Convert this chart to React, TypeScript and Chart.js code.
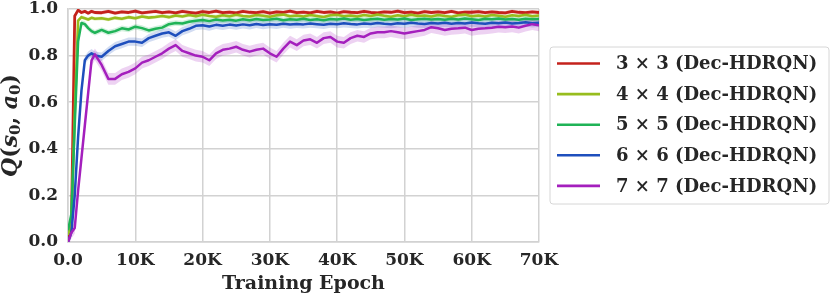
import React, { useEffect, useRef } from "react";
import { Chart, registerables } from "chart.js";

Chart.register(...registerables);

// Training epochs at which values were sampled
const epochs = [
  0, 500, 1000, 1500, 2000, 2500, 3000, 3500, 4000,
  5000, 6000, 7000, 8000, 9000, 10000, 11000, 12000, 13000, 14000,
  15000, 16000, 17000, 18000, 19000, 20000, 21000, 22000, 23000, 24000,
  25000, 26000, 27000, 28000, 29000, 30000, 31000, 32000, 33000, 34000,
  35000, 36000, 37000, 38000, 39000, 40000, 41000, 42000, 43000, 44000,
  45000, 46000, 47000, 48000, 49000, 50000, 51000, 52000, 53000, 54000,
  55000, 56000, 57000, 58000, 59000, 60000, 61000, 62000, 63000, 64000,
  65000, 66000, 67000, 68000, 69000, 70000,
];

const q3x3 = [
  0.02, 0.06, 0.97, 0.995, 0.985, 0.99, 0.982, 0.99, 0.985,
  0.984, 0.99, 0.982, 0.988, 0.985, 0.991, 0.983, 0.987, 0.99, 0.984,
  0.988, 0.983, 0.99, 0.986, 0.982, 0.989, 0.985, 0.991, 0.984, 0.987,
  0.983, 0.99, 0.986, 0.984, 0.989, 0.982, 0.988, 0.985, 0.991, 0.984,
  0.987, 0.983, 0.99, 0.985, 0.988, 0.982, 0.989, 0.986, 0.984, 0.99,
  0.985, 0.983, 0.988, 0.986, 0.991, 0.984, 0.987, 0.982, 0.989, 0.985,
  0.988, 0.984, 0.99, 0.983, 0.987, 0.986, 0.989, 0.984, 0.988, 0.985,
  0.983, 0.99, 0.986, 0.984, 0.988, 0.985,
];

const q4x4 = [
  0.03, 0.08, 0.55, 0.95, 0.965, 0.96, 0.955, 0.962, 0.958,
  0.96, 0.955, 0.962, 0.958, 0.965, 0.96, 0.968, 0.963, 0.966, 0.97,
  0.965, 0.972, 0.968, 0.974, 0.969, 0.975, 0.97, 0.967, 0.973, 0.969,
  0.975, 0.97, 0.968, 0.974, 0.971, 0.967, 0.973, 0.976, 0.969, 0.972,
  0.968, 0.974, 0.97, 0.966, 0.973, 0.975, 0.969, 0.972, 0.968, 0.974,
  0.97, 0.976, 0.971, 0.967, 0.973, 0.969, 0.975, 0.97, 0.972, 0.968,
  0.974, 0.97, 0.967, 0.973, 0.976, 0.969, 0.972, 0.968, 0.974, 0.971,
  0.967, 0.973, 0.97, 0.975, 0.969, 0.972,
];

const q5x5 = [
  0.05, 0.12, 0.5, 0.86, 0.94, 0.935, 0.918, 0.905, 0.898,
  0.91, 0.898, 0.905, 0.917, 0.912, 0.924, 0.918, 0.908, 0.915, 0.92,
  0.935, 0.94, 0.938, 0.945, 0.95, 0.953, 0.948, 0.955, 0.951, 0.954,
  0.95, 0.956, 0.952, 0.957, 0.953, 0.955, 0.958, 0.952, 0.956, 0.954,
  0.958, 0.953, 0.956, 0.952, 0.957, 0.955, 0.959, 0.954, 0.957, 0.953,
  0.956, 0.958, 0.954, 0.957, 0.955, 0.959, 0.953, 0.956, 0.958, 0.955,
  0.957, 0.954, 0.958, 0.955, 0.959, 0.956, 0.953, 0.958, 0.956, 0.959,
  0.955, 0.957, 0.954, 0.958, 0.956, 0.957,
];

const q6x6 = [
  0.0, 0.04, 0.2, 0.45, 0.65, 0.78, 0.8, 0.81, 0.8,
  0.795, 0.82, 0.84, 0.85, 0.86, 0.86, 0.855, 0.875, 0.885, 0.895,
  0.9, 0.885, 0.905, 0.915, 0.928, 0.93, 0.925, 0.932, 0.928, 0.933,
  0.929, 0.934, 0.93, 0.936, 0.931, 0.935, 0.932, 0.937, 0.933, 0.936,
  0.934, 0.938, 0.935, 0.932, 0.937, 0.935, 0.939, 0.936, 0.934, 0.938,
  0.936, 0.94, 0.937, 0.935, 0.939, 0.937, 0.941, 0.938, 0.936, 0.94,
  0.938, 0.941, 0.937, 0.94, 0.938, 0.942, 0.939, 0.937, 0.941, 0.939,
  0.942, 0.938, 0.94, 0.943, 0.939, 0.941,
];

const q7x7 = [
  0.0, 0.04, 0.06, 0.22, 0.36, 0.5, 0.64, 0.78, 0.805,
  0.76, 0.7, 0.7, 0.72, 0.73, 0.745, 0.77, 0.78, 0.795, 0.81,
  0.83, 0.845, 0.82, 0.81, 0.8, 0.795, 0.78, 0.81, 0.825, 0.83,
  0.838, 0.825, 0.817, 0.825, 0.83, 0.81, 0.795, 0.83, 0.86, 0.845,
  0.865, 0.87, 0.855, 0.875, 0.88, 0.86, 0.855, 0.875, 0.885, 0.88,
  0.895, 0.9, 0.9, 0.905, 0.9, 0.895, 0.9, 0.905, 0.91, 0.922,
  0.917, 0.91, 0.915, 0.917, 0.92, 0.91, 0.915, 0.917, 0.92, 0.924,
  0.922, 0.925, 0.92, 0.928, 0.935, 0.93,
];

const seriesLabels = [
  "3 × 3 (Dec-HDRQN)",
  "4 × 4 (Dec-HDRQN)",
  "5 × 5 (Dec-HDRQN)",
  "6 × 6 (Dec-HDRQN)",
  "7 × 7 (Dec-HDRQN)",
];
const seriesValues = [q3x3, q4x4, q5x5, q6x6, q7x7];
const seriesColors = ["#c4221c", "#97bd1e", "#1fb357", "#1e4fbd", "#a41fbd"];
const bandAlpha = ["rgba(196,34,28,0.22)", "rgba(151,189,30,0.22)", "rgba(31,179,87,0.2)", "rgba(30,79,189,0.2)", "rgba(164,31,189,0.2)"];
const seriesWidths = [2.8, 2.6, 2.5, 2.5, 2.5];
const seriesSpread = [0.008, 0.008, 0.012, 0.018, 0.025];

const yTicks = [0, 0.2, 0.4, 0.6, 0.8, 1.0];
const xTickStep = 10000;

const FONT = "'DejaVu Serif', 'Liberation Serif', serif";
const TEXT = "#262626";
const GRID = "#d2d2d2";

// y-axis title Q(s_0, a_0) with real subscripts: [text, italic, subscript]
const yTitleParts: [string, boolean, boolean][] = [
  ["Q", true, false],
  ["(", false, false],
  ["s", true, false],
  ["0", false, true],
  [", ", false, false],
  ["a", true, false],
  ["0", false, true],
  [")", false, false],
];

const decorPlugin = {
  id: "decorPlugin",
  afterDraw(chart: any) {
    const { ctx, chartArea } = chart;
    // legend box
    const left = chartArea.right + 11;
    const width = 279;
    const height = 157;
    const cy = (chartArea.top + chartArea.bottom) / 2;
    const top = cy - height / 2;
    ctx.save();
    ctx.fillStyle = "rgba(255,255,255,0.9)";
    ctx.strokeStyle = "#d6d6d6";
    ctx.lineWidth = 1;
    ctx.beginPath();
    const r = 3;
    ctx.moveTo(left + r, top);
    ctx.lineTo(left + width - r, top);
    ctx.quadraticCurveTo(left + width, top, left + width, top + r);
    ctx.lineTo(left + width, top + height - r);
    ctx.quadraticCurveTo(left + width, top + height, left + width - r, top + height);
    ctx.lineTo(left + r, top + height);
    ctx.quadraticCurveTo(left, top + height, left, top + height - r);
    ctx.lineTo(left, top + r);
    ctx.quadraticCurveTo(left, top, left + r, top);
    ctx.closePath();
    ctx.fill();
    ctx.stroke();
    ctx.font = `bold 18px ${FONT}`;
    ctx.textBaseline = "middle";
    ctx.textAlign = "left";
    seriesLabels.forEach((label, i) => {
      const y = top + 16.5 + i * 30.6;
      ctx.strokeStyle = seriesColors[i];
      ctx.lineWidth = 2.6;
      ctx.beginPath();
      ctx.moveTo(left + 7, y);
      ctx.lineTo(left + 50, y);
      ctx.stroke();
      ctx.fillStyle = TEXT;
      ctx.fillText(label, left + 66, y + 1);
    });

    // y-axis title
    const fontFor = (italic: boolean, sub: boolean) =>
      `${italic ? "italic " : ""}bold ${sub ? 15 : 22}px ${FONT}`;
    let total = 0;
    yTitleParts.forEach(([t, it, sub]) => {
      ctx.font = fontFor(it, sub);
      total += ctx.measureText(t).width;
    });
    ctx.translate(17, cy);
    ctx.rotate(-Math.PI / 2);
    ctx.textBaseline = "alphabetic";
    ctx.fillStyle = TEXT;
    let x = -total / 2;
    yTitleParts.forEach(([t, it, sub]) => {
      ctx.font = fontFor(it, sub);
      ctx.fillText(t, x, sub ? 3 : 0);
      x += ctx.measureText(t).width;
    });
    ctx.restore();
  },
};

export default function App() {
  const canvasRef = useRef<HTMLCanvasElement | null>(null);

  useEffect(() => {
    if (!canvasRef.current) return;
    const datasets: any[] = [];
    seriesValues.forEach((vals, i) => {
      datasets.push({
        label: seriesLabels[i] + " upper",
        data: epochs.map((x, j) => ({ x, y: vals[j] + seriesSpread[i] })),
        borderColor: "transparent",
        borderWidth: 0,
        pointRadius: 0,
        backgroundColor: bandAlpha[i],
        fill: "+1",
        order: 20 - i,
      });
      datasets.push({
        label: seriesLabels[i] + " lower",
        data: epochs.map((x, j) => ({ x, y: vals[j] - seriesSpread[i] })),
        borderColor: "transparent",
        borderWidth: 0,
        pointRadius: 0,
        fill: false,
        order: 20 - i,
      });
    });
    seriesValues.forEach((vals, i) => {
      datasets.push({
        label: seriesLabels[i],
        data: epochs.map((x, j) => ({ x, y: vals[j] })),
        borderColor: seriesColors[i],
        borderWidth: seriesWidths[i],
        borderJoinStyle: "round",
        pointRadius: 0,
        fill: false,
        tension: 0,
        order: 4 - i,
      });
    });

    const chart = new Chart(canvasRef.current, {
      type: "line",
      data: { datasets },
      options: {
        animation: false,
        responsive: false,
        devicePixelRatio: 1,
        layout: { padding: { left: 0, right: 292, top: 9, bottom: 0 } },
        plugins: {
          legend: { display: false },
          tooltip: { enabled: false },
        },
        scales: {
          x: {
            type: "linear",
            min: 0,
            max: 70000,
            afterFit: (scale: any) => {
              scale.height = 55;
            },
            ticks: {
              stepSize: xTickStep,
              padding: 8,
              color: TEXT,
              font: { family: FONT, size: 17, weight: "bold" },
              callback: (v: any) => (v === 0 ? "0.0" : `${v / 1000}K`),
              maxRotation: 0,
            },
            grid: { color: GRID, lineWidth: 1.5, drawTicks: false },
            border: { display: true, color: GRID, width: 1.5 },
            title: {
              display: true,
              text: "Training Epoch",
              color: TEXT,
              font: { family: FONT, size: 19, weight: "bold" },
              padding: { top: 0, bottom: 2 },
            },
          },
          y: {
            min: 0,
            max: 1.0,
            afterFit: (scale: any) => {
              scale.width = 68;
              scale.paddingTop = 0;
              scale.paddingBottom = 0;
            },
            afterBuildTicks: (scale: any) => {
              scale.ticks = yTicks.map((v) => ({ value: v }));
            },
            ticks: {
              padding: 10,
              color: TEXT,
              font: { family: FONT, size: 17, weight: "bold", lineHeight: 1 },
              callback: (v: any) => Number(v).toFixed(1),
            },
            grid: { color: GRID, lineWidth: 1.5, drawTicks: false },
            border: { display: true, color: GRID, width: 1.5 },
          },
        },
      },
      plugins: [decorPlugin],
    });
    return () => chart.destroy();
  }, []);

  return (
    <div style={{ position: "fixed", left: 0, top: 0, width: 831, height: 297, background: "#fff" }}>
      <canvas ref={canvasRef} width={831} height={297} style={{ width: 831, height: 297 }} />
    </div>
  );
}
